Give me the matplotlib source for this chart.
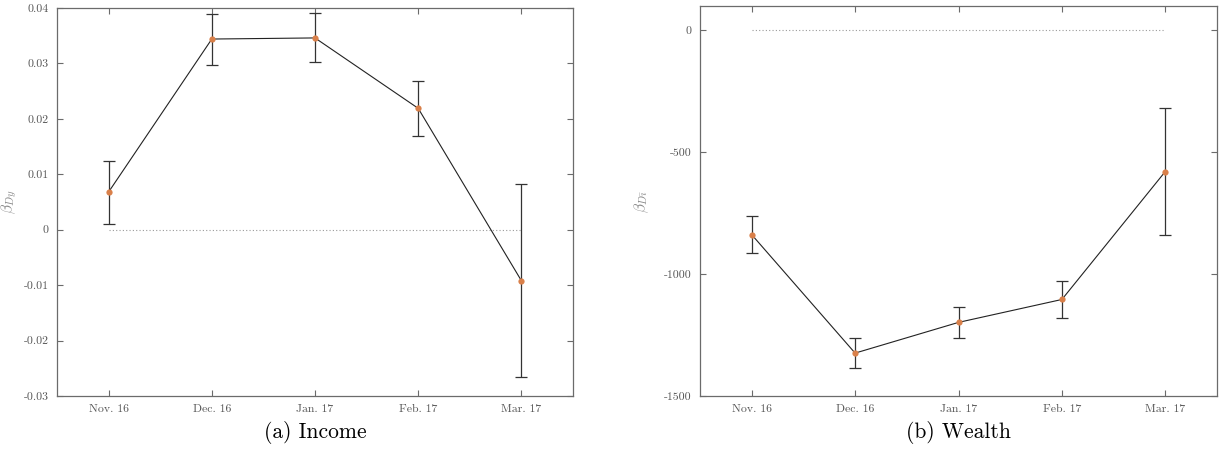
import matplotlib
matplotlib.use("Agg")
import matplotlib.pyplot as plt

months = ["Nov. 16", "Dec. 16", "Jan. 17", "Feb. 17", "Mar. 17"]

income_beta = [0.0068, 0.0344, 0.0346, 0.0219, -0.0092]
income_upper = [0.0124, 0.0390, 0.0391, 0.0269, 0.0083]
income_lower = [0.0010, 0.0298, 0.0303, 0.0169, -0.0266]

wealth_beta = [-838, -1324, -1198, -1104, -579]
wealth_upper = [-762, -1260, -1135, -1027, -320]
wealth_lower = [-915, -1386, -1263, -1179, -838]

income_yticks = [-0.03, -0.02, -0.01, 0, 0.01, 0.02, 0.03, 0.04]
income_yticklabels = ["-0.03", "-0.02", "-0.01", "0", "0.01", "0.02", "0.03", "0.04"]
wealth_yticks = [-1500, -1000, -500, 0]
wealth_yticklabels = ["-1500", "-1000", "-500", "0"]

plt.rcParams["font.family"] = ["cmr10", "DejaVu Serif"]
plt.rcParams["mathtext.fontset"] = "cm"

W, H = 1225, 457
fig = plt.figure(figsize=(W / 100, H / 100), dpi=100)

axL = fig.add_axes([57 / W, (H - 396) / H, 516 / W, 388 / H])
axR = fig.add_axes([700 / W, (H - 396) / H, 517 / W, 390 / H])

marker_color = "#D9804A"
spine_color = "#6b6b6b"
label_color = "#555555"


def draw(ax, beta, lo, hi, ylim, yticks, yticklabels, ylabel, label_x):
    x = list(range(len(months)))
    yerr = [[b - l for b, l in zip(beta, lo)], [h - b for b, h in zip(beta, hi)]]
    ax.plot([x[0], x[-1]], [0, 0], linestyle=(0, (1, 2)), color="#9a9a9a", lw=0.8, zorder=1)
    ax.errorbar(x, beta, yerr=yerr, fmt="none", ecolor="#333333", elinewidth=0.9,
                capsize=4.5, capthick=0.9, zorder=2)
    ax.plot(x, beta, color="#222222", lw=0.8, zorder=3)
    ax.plot(x, beta, "o", color=marker_color, markersize=4.5, zorder=4, markeredgewidth=0)
    ax.set_xlim(-0.5, len(months) - 0.5)
    ax.set_ylim(*ylim)
    ax.set_xticks(x)
    ax.set_xticklabels(months)
    ax.set_yticks(yticks)
    ax.set_yticklabels(yticklabels)
    ax.tick_params(direction="in", length=4, width=0.8, colors=spine_color,
                   labelcolor=label_color, labelsize=8.5, top=True, right=True, pad=6)
    for s in ax.spines.values():
        s.set_color(spine_color)
        s.set_linewidth(0.9)
    ax.set_ylabel(ylabel, color="#8a8a8a", fontsize=11)
    ax.yaxis.set_label_coords(label_x, 0.5)


draw(axL, income_beta, income_lower, income_upper, (-0.03, 0.04),
     income_yticks, income_yticklabels, r"$\beta_{Dy}$", -0.074)
draw(axR, wealth_beta, wealth_lower, wealth_upper, (-1500, 100),
     wealth_yticks, wealth_yticklabels, r"$\beta_{D\bar{\imath}}$", -0.095)

fig.text(315 / W, (H - 432) / H, "(a) Income", ha="center", va="center", fontsize=15.5)
fig.text(958 / W, (H - 432) / H, "(b) Wealth", ha="center", va="center", fontsize=15.5)

fig.savefig("out.png", dpi=100)
